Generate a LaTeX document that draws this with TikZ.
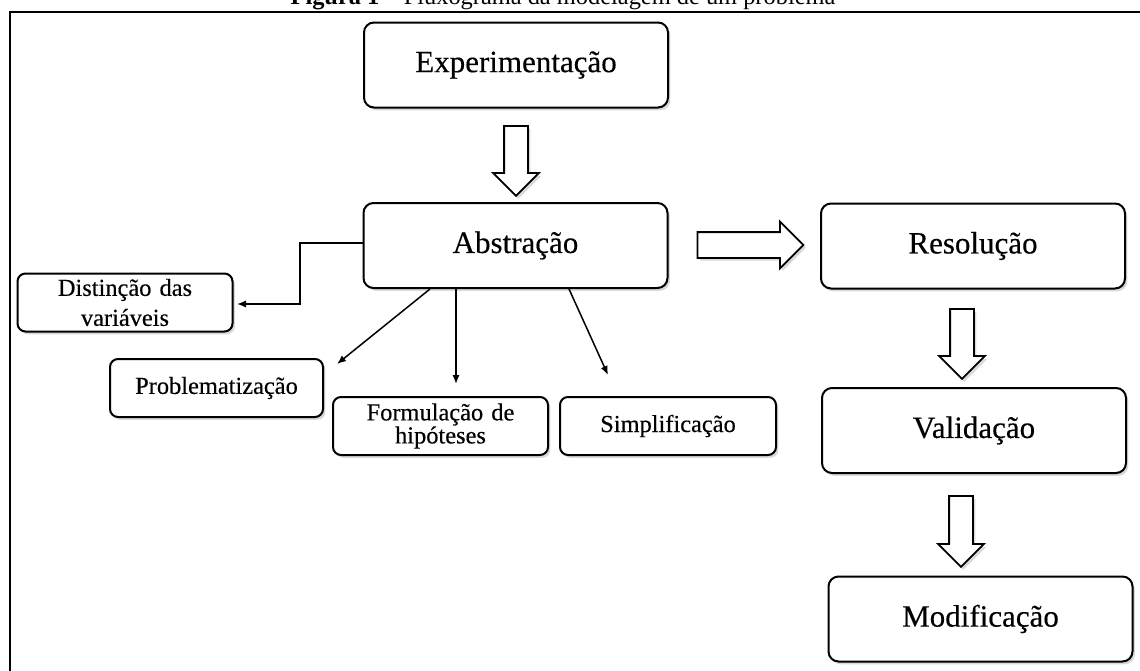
\documentclass[tikz,border=0pt]{standalone}
\usepackage{fontspec}
\setmainfont{Liberation Serif}
\newfontfamily\texto{Liberation Serif}[FakeBold=0.35]
\usetikzlibrary{shapes.arrows,shadows,arrows.meta}

\begin{document}
\begin{tikzpicture}[x=0.5pt,y=-0.5pt,
	caixa/.style={draw,line width=1pt,rounded corners=5pt,fill=white,
		drop shadow={shadow xshift=1.2pt,shadow yshift=-1.4pt,opacity=0.3},
		font=\texto\fontsize{15.5}{18}\selectfont,minimum width=152pt,minimum height=42.5pt},
	caixinha/.style={caixa,rounded corners=4pt,font=\texto\fontsize{12.2}{15}\selectfont,
		minimum width=107.5pt,minimum height=29pt,align=center,inner sep=1pt},
	seta/.style={draw,line width=0.9pt,fill=white,single arrow,
		single arrow head extend=5.5pt,inner xsep=0pt,inner ysep=5.5pt,
		minimum height=35pt,
		drop shadow={shadow xshift=1.2pt,shadow yshift=-1.4pt,opacity=0.3}},
	liga/.style={-{Latex[length=4.5pt,width=3.6pt]},line width=0.75pt}]
	% Area da figura
	\useasboundingbox (0,0) rectangle (1140,670);
	
	% Moldura e titulo
	\draw[line width=1pt] (10,700) -- (10,12) -- (1160,12);
	\node[anchor=base,inner sep=0pt,font=\fontsize{12.2}{14}\selectfont] (titulo) at (563,4)
		{\textbf{Figura 1} – Fluxograma da modelagem de um problema};
	
	% Etapas principais
	\node[caixa] (exp) at (516,65) {Experimentação};
	\node[caixa] (abs) at (515.5,245.5) {Abstração};
	\node[caixa] (res) at (973,246) {Resolução};
	\node[caixa] (val) at (974,430.5) {Validação};
	\node[caixa] (mod) at (980.5,619) {Modificação};
	
	% Etapas da abstracao
	\node[caixinha,text width=100pt] (dist) at (125,302.5) {Distinção das\\variáveis};
	\node[caixinha,minimum width=106.5pt] (prob) at (216.5,388) {Problematização};
	\node[caixinha,text width=100pt,font=\texto\fontsize{12.2}{11.5}\selectfont] (form) at (440.5,426) {Formulação de\\hipóteses};
	\node[caixinha,minimum width=108pt] (simp) at (668,426) {Simplificação};
	
	% Setas grandes entre as etapas
	\node[seta,rotate=-90] (s1) at (516,155) {};
	\node[seta,minimum height=53pt,inner ysep=6pt,single arrow head extend=5.25pt] (s2) at (744,245) {};
	\node[seta,rotate=-90] (s3) at (962,338) {};
	\node[seta,rotate=-90,minimum height=35.5pt] (s4) at (961,525.5) {};
	
	% Pontas das ligacoes
	\coordinate (c1) at (300,243);
	\coordinate (p1) at (237,304);
	\coordinate (p2) at (337,364);
	\coordinate (p3) at (456,384);
	\coordinate (p4) at (608,375);
	
	% Ligacoes da abstracao
	\draw[liga] (abs.west |- c1) -- (c1) |- (p1);
	\draw[liga] (abs.south -| 430,0) -- (p2);
	\draw[liga] (abs.south -| p3) -- (p3);
	\draw[liga] (abs.south -| 569,0) -- (p4);
	
\end{tikzpicture}
\end{document}
